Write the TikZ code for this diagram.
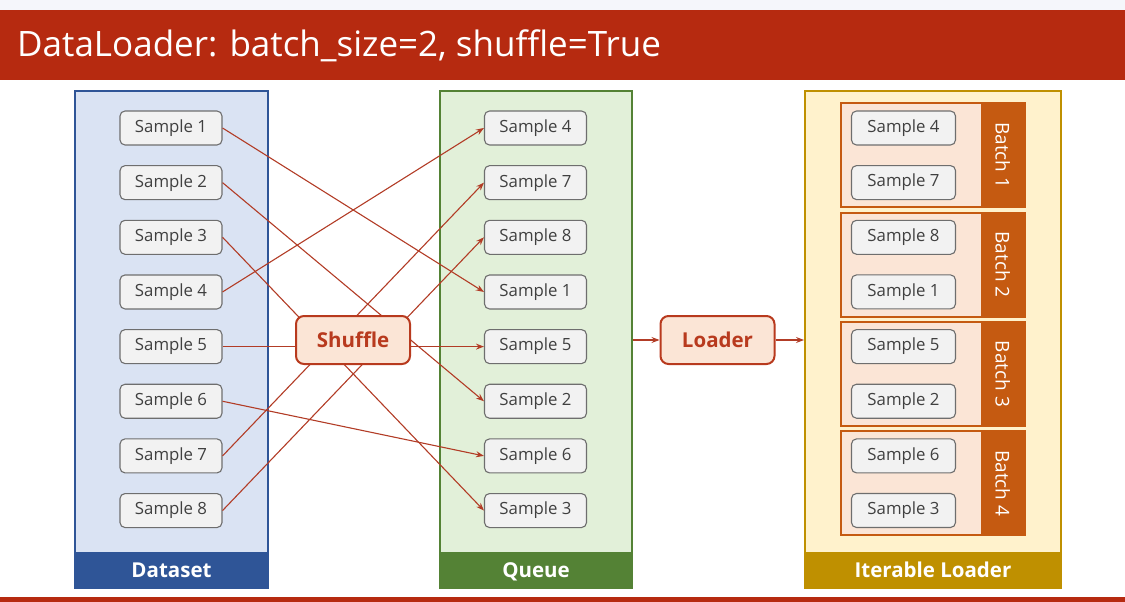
\documentclass[tikz,border=0pt]{standalone}
\usepackage{fontspec}
\setmainfont{Open Sans}
\usetikzlibrary{arrows.meta}
\definecolor{titlered}{RGB}{182,42,16}
\definecolor{topstrip}{RGB}{245,246,251}
\definecolor{dsfill}{RGB}{218,227,243}
\definecolor{dsborder}{RGB}{47,85,151}
\definecolor{qfill}{RGB}{226,240,217}
\definecolor{qborder}{RGB}{84,130,53}
\definecolor{itfill}{RGB}{255,242,204}
\definecolor{itborder}{RGB}{191,144,0}
\definecolor{smpfill}{RGB}{242,242,242}
\definecolor{smpborder}{RGB}{110,110,110}
\definecolor{smptext}{RGB}{64,64,64}
\definecolor{procred}{RGB}{184,58,30}
\definecolor{procfill}{RGB}{251,229,214}
\definecolor{batchorange}{RGB}{197,90,17}
\definecolor{connred}{RGB}{178,60,38}
\tikzset{
  smp/.style={draw=smpborder, fill=smpfill, rounded corners=5pt, line width=1.1pt,
    minimum width=102pt, minimum height=34pt, inner sep=0pt,
    font=\fontsize{16.8}{18}\selectfont, text=smptext},
  bsmp/.style={smp, minimum width=104pt},
  proc/.style={draw=procred, fill=procfill, line width=2pt, rounded corners=8pt,
    minimum width=114pt, minimum height=48pt, inner sep=0pt,
    font=\fontsize{20.5}{22}\selectfont\bfseries, text=procred},
  panel/.style={line width=2pt, minimum height=497pt, inner sep=0pt},
  pbar/.style={minimum height=36pt, inner sep=0pt, text=white,
    font=\fontsize{20.5}{22}\selectfont\bfseries},
  pbartext/.style={anchor=base, inner sep=0pt, text=white,
    font=\fontsize{20.5}{22}\selectfont\bfseries},
  batchbox/.style={draw=batchorange, fill=procfill, line width=2pt,
    minimum width=184pt, minimum height=104pt, inner sep=0pt},
  batchtag/.style={fill=batchorange, minimum width=44pt, minimum height=104pt, inner sep=0pt},
  batchlbl/.style={text=white, font=\fontsize{19}{21}\selectfont, rotate=-90, inner sep=0pt},
  conn/.style={draw=connred, line width=1.1pt, -{Stealth[length=8pt,width=6pt]}},
}
\begin{document}
\begin{tikzpicture}[x=1pt,y=-1pt]
\useasboundingbox (0,0) rectangle (1125,602);
% background strips
\fill[topstrip] (0,0) rectangle (1125,10);
\fill[titlered] (0,10) rectangle (1125,80);
\node[anchor=base west, inner sep=0pt, text=white, font=\fontsize{35}{40}\selectfont] (title) at (17,57) {DataLoader: batch\_size=2, shuffle=True};
\fill[titlered] (0,597) rectangle (1125,602);

% panels
\node[panel, draw=dsborder, fill=dsfill, minimum width=193pt] (dsp) at (171.5,339.5) {};
\node[panel, draw=qborder, fill=qfill, minimum width=192pt] (qp) at (536,339.5) {};
\node[panel, draw=itborder, fill=itfill, minimum width=256pt] (itp) at (933,339.5) {};
\node[pbar, fill=dsborder, minimum width=195pt] (dsl) at (171.5,570) {};
\node[pbar, fill=qborder, minimum width=194pt] (ql) at (536,570) {};
\node[pbar, fill=itborder, minimum width=258pt] (itl) at (933,570) {};
\node[pbartext] (dslt) at (171.5,577.5) {Dataset};
\node[pbartext] (qlt) at (536,577.5) {Queue};
\node[pbartext] (itlt) at (933,577.5) {Iterable Loader};

% dataset samples
\foreach \i in {1,...,8} {
  \node[smp] (d\i) at (171, {128+54.65*(\i-1)}) {Sample \i};
}
% queue samples (slot -> sample)
\foreach \s [count=\k] in {4,7,8,1,5,2,6,3} {
  \node[smp] (q\s) at (535.5, {128+54.65*(\k-1)}) {Sample \s};
}

% batches
\foreach \b/\sa/\sb in {1/4/7, 2/8/1, 3/5/2, 4/6/3} {
  \pgfmathsetmacro{\yc}{128+54.65*(2*\b-2)+27.3}
  \node[batchbox] (b\b) at (933,\yc) {};
  \node[batchtag, anchor=east] (bt\b) at ([xshift=-1pt]b\b.east) {};
  \node[batchlbl] (bl\b) at (bt\b.center) {Batch \b};
  \node[bsmp] (bs\b a) at (903.5, {\yc-27.3}) {Sample \sa};
  \node[bsmp] (bs\b b) at (903.5, {\yc+27.3}) {Sample \sb};
}

% connectors
\foreach \s in {1,...,8} {
  \draw[conn] (d\s.east) -- (q\s.west);
}

% process boxes
\node[proc] (shuffle) at (353,340) {Shuffle};
\node[proc] (loader) at (717.5,340) {Loader};
\draw[conn] (qp.east |- loader.west) -- (loader.west);
\draw[conn] (loader.east) -- (itp.west |- loader.east);
\end{tikzpicture}
\end{document}
